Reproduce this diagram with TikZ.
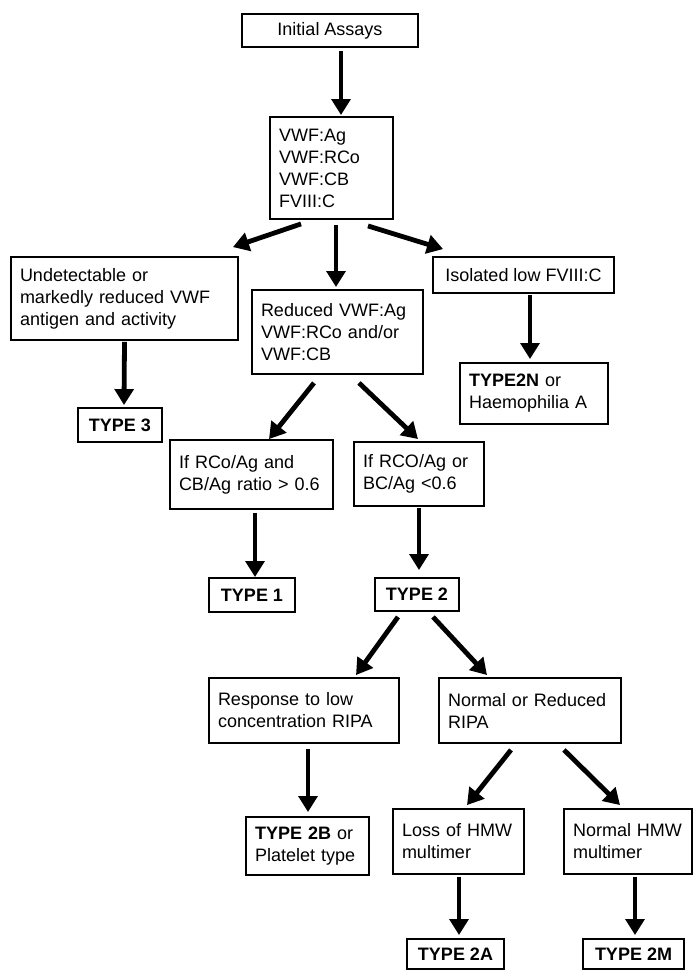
\documentclass[tikz,border=0pt]{standalone}
\usepackage{fontspec}
\setmainfont{Liberation Sans}
\usetikzlibrary{arrows.meta}

\begin{document}
\begin{tikzpicture}[x=0.75pt,y=-0.75pt,
    box/.style={draw,line width=1.4pt,inner xsep=6.75pt,inner ysep=0pt,font=\fontsize{13.5}{16.5}\selectfont},
    lbox/.style={box,align=left},
    cbox/.style={box,align=center},
    tbox/.style={box,align=center,font=\fontsize{13.5}{16.5}\selectfont\bfseries},
    arr/.style={line width=3.6pt,-{Triangle[width=14pt,length=12pt]}}]
                    \useasboundingbox (0,0) rectangle (694,970);
                    \node[cbox,minimum width=132pt,minimum height=24.75pt] (init) at (330,30.5) {Initial Assays};
                    \node[lbox,text width=78.75pt,minimum height=76.5pt] (assays) at (331.5,168) {VWF:Ag\\VWF:RCo\\VWF:CB\\FVIII:C};
                    \node[lbox,text width=156.75pt,minimum height=62.25pt] (undet) at (124.5,298.5) {Undetectable or\\markedly reduced VWF\\antigen and activity};
                    \node[lbox,text width=114.75pt,minimum height=63pt] (reduced) at (337.5,332) {Reduced VWF:Ag\\VWF:RCo and/or\\VWF:CB};
                    \node[cbox,minimum width=135.75pt,minimum height=27pt] (isolated) at (523.5,275) {Isolated low FVIII:C};
                    \node[tbox,minimum width=63pt,minimum height=25.5pt] (type3) at (120,425) {TYPE 3};
                    \node[lbox,text width=108.75pt,minimum height=51.75pt] (ratiohi) at (251.5,474.5) {If RCo/Ag and\\CB/Ag ratio > 0.6};
                    \node[lbox,text width=84pt,minimum height=48pt] (ratiolo) at (419,474) {If RCO/Ag or\\BC/Ag <0.6};
                    \node[lbox,text width=97.5pt,minimum height=45.75pt] (type2n) at (534,393.5) {\textbf{TYPE2N} or\\Haemophilia A};
                    \node[tbox,minimum width=64.5pt,minimum height=25.5pt] (type1) at (252,595) {TYPE 1};
                    \node[tbox,minimum width=63pt,minimum height=24.75pt] (type2) at (417,594.5) {TYPE 2};
                    \node[lbox,text width=129pt,minimum height=48.75pt] (ripalow) at (304,710.5) {Response to low\\concentration RIPA};
                    \node[lbox,text width=123pt,minimum height=48.75pt] (ripanorm) at (530,710.5) {Normal or Reduced\\RIPA};
                    \node[lbox,text width=78.75pt,minimum height=43.5pt] (type2b) at (307.5,846) {\textbf{TYPE 2B} or\\Platelet type};
                    \node[lbox,text width=84.75pt,minimum height=48.75pt] (hmwloss) at (458.5,841.5) {Loss of HMW\\multimer};
                    \node[lbox,text width=82.5pt,minimum height=48.75pt] (hmwnorm) at (628,841.5) {Normal HMW\\multimer};
                    \node[tbox,minimum width=72.75pt,minimum height=22.5pt] (type2a) at (455.5,954) {TYPE 2A};
                    \node[tbox,minimum width=75.75pt,minimum height=22.5pt] (type2m) at (633.5,954) {TYPE 2M};
                    \draw[arr] ([shift={(11,3)}]init.south) -- ([shift={(9.5,-1)}]assays.north);
                    \draw[arr] ([shift={(-30.5,4)}]assays.south) -- ([shift={(-6,-9)}]undet.north east);
                    \draw[arr] ([shift={(4.5,5)}]assays.south) -- ([shift={(-1.5,-2)}]reduced.north);
                    \draw[arr] ([shift={(36.5,6)}]assays.south) -- ([shift={(11,-7)}]isolated.north west);
                    \draw[arr] ([shift={(0,1)}]undet.south) -- ([shift={(4,-2)}]type3.north);
                    \draw[arr] ([shift={(6.5,1)}]isolated.south) -- ([shift={(-4,-3)}]type2n.north);
                    \draw[arr] ([shift={(-23.5,8)}]reduced.south) -- ([shift={(17.5,0)}]ratiohi.north);
                    \draw[arr] ([shift={(21.5,8)}]reduced.south) -- ([shift={(-1,-2)}]ratiolo.north);
                    \draw[arr] ([shift={(3.5,3)}]ratiohi.south) -- ([shift={(3,0)}]type1.north);
                    \draw[arr] ([shift={(0,1)}]ratiolo.south) -- ([shift={(2,-7)}]type2.north);
                    \draw[arr] ([shift={(-19,5)}]type2.south) -- ([shift={(52,-2)}]ripalow.north);
                    \draw[arr] ([shift={(16,5)}]type2.south) -- ([shift={(-43,-2)}]ripanorm.north);
                    \draw[arr] ([shift={(4,5)}]ripalow.south) -- ([shift={(0.5,-4)}]type2b.north);
                    \draw[arr] ([shift={(-19,6)}]ripanorm.south) -- ([shift={(8.5,-3)}]hmwloss.north);
                    \draw[arr] ([shift={(34,6)}]ripanorm.south) -- ([shift={(-8,-3)}]hmwnorm.north);
                    \draw[arr] ([shift={(0.5,2)}]hmwloss.south) -- ([shift={(3.5,-3)}]type2a.north);
                    \draw[arr] ([shift={(7,2)}]hmwnorm.south) -- ([shift={(1.5,-3)}]type2m.north);
                \end{tikzpicture}
\end{document}
